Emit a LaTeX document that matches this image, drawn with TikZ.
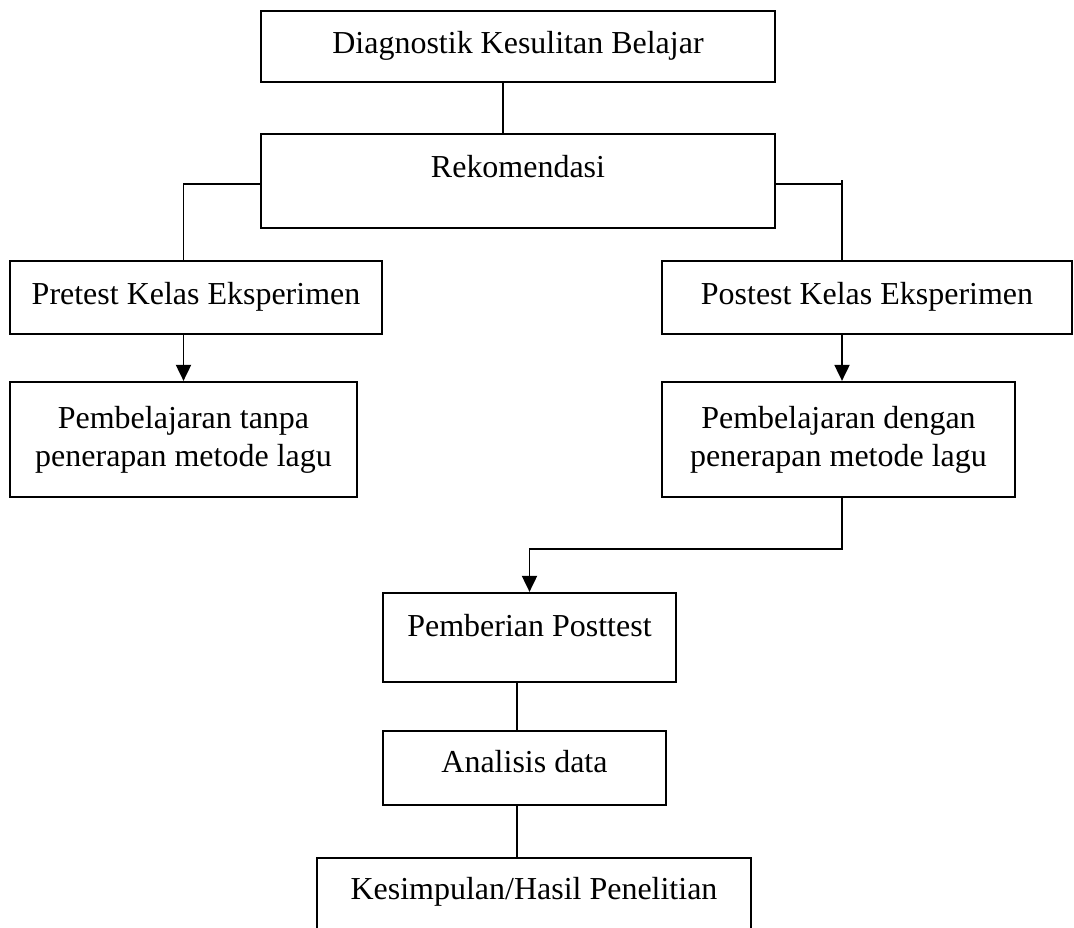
\documentclass[tikz,border=0pt]{standalone}
\usepackage{fontspec}
\setmainfont{Liberation Serif}
\usetikzlibrary{arrows.meta}

\tikzset{
  box/.style={draw, line width=1.3pt, inner sep=0pt, align=center,
    font=\fontsize{18.2}{21.6}\selectfont},
  wire/.style={line width=1.1pt},
  arr/.style={wire, -{Triangle[length=0.32cm, width=0.3cm]}}
}

\begin{document}
\begin{tikzpicture}[x=0.02cm, y=-0.02cm]
                \clip (0,0) rectangle (1074,927);
                % Boxes:
                \node[box, minimum width=10.28cm, minimum height=1.42cm, text height=0.45cm, text depth=0.17cm] (diag) at (518,46.5) {Diagnostik Kesulitan Belajar};
                \node[box, minimum width=10.28cm, minimum height=1.88cm, text height=0.45cm, text depth=0.59cm] (rek) at (518,181) {Rekomendasi};
                \node[box, minimum width=7.44cm, minimum height=1.46cm, text height=0.45cm, text depth=0.19cm] (pre) at (196,297.5) {Pretest Kelas Eksperimen};
                \node[box, minimum width=8.2cm, minimum height=1.46cm, text height=0.45cm, text depth=0.19cm] (post) at (867,297.5) {Postest Kelas Eksperimen};
                \node[box, minimum width=6.94cm, minimum height=2.3cm] (tanpa) at (183.5,439.5) {Pembelajaran tanpa\\penerapan metode lagu};
                \node[box, minimum width=7.06cm, minimum height=2.3cm] (dengan) at (838.5,439.5) {Pembelajaran dengan\\penerapan metode lagu};
                \node[box, minimum width=5.86cm, minimum height=1.78cm, text height=0.45cm, text depth=0.51cm] (beri) at (529.5,637.5) {Pemberian Posttest};
                \node[box, minimum width=5.66cm, minimum height=1.48cm, text height=0.45cm, text depth=0.27cm] (anal) at (524.5,768) {Analisis data};
                \node[box, minimum width=8.68cm, minimum height=1.8cm, text height=0.45cm, text depth=0.6cm] (kes) at (534,903) {Kesimpulan/Hasil Penelitian};
                % Wires and arrows:
                \coordinate (colT) at (503,0);
                \coordinate (colR) at (842,180);
                \coordinate (colM) at (517,0);
                \coordinate (sideY) at (0,184);
                \coordinate (midY) at (0,549);
                \draw[wire] (diag.south -| colT) -- (rek.north -| colT);
                \draw[wire] (rek.west |- sideY) -| (pre.north -| tanpa.north);
                \draw[wire] (rek.east |- sideY) -- (colR |- sideY);
                \draw[wire] (colR) -- (post.north -| colR);
                \draw[arr] (pre.south -| tanpa.north) -- (tanpa.north);
                \draw[arr] (post.south -| colR) -- (dengan.north -| colR);
                \draw[arr] (dengan.south -| colR) -- (colR |- midY) -| (beri.north);
                \draw[wire] (beri.south -| colM) -- (anal.north -| colM);
                \draw[wire] (anal.south -| colM) -- (kes.north -| colM);
            \end{tikzpicture}
\end{document}
